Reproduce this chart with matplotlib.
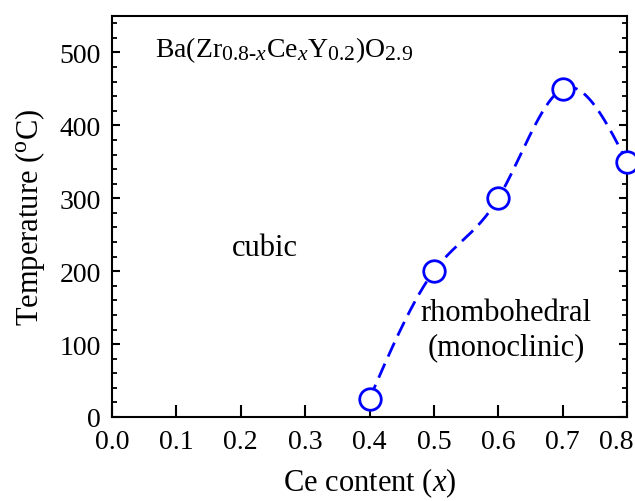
import numpy as np
import matplotlib
matplotlib.use("Agg")
import matplotlib.pyplot as plt
import matplotlib.transforms as mtransforms
from matplotlib.ticker import MultipleLocator

try:
    # slightly larger sub/superscripts, closer to the original figure
    import matplotlib._mathtext as _mt
    _mt.SHRINK_FACTOR = 0.78
except Exception:
    pass

plt.rcParams['font.family'] = ['Liberation Serif', 'DejaVu Serif']
plt.rcParams['mathtext.fontset'] = 'custom'
plt.rcParams['mathtext.rm'] = 'Liberation Serif'
plt.rcParams['mathtext.it'] = 'Liberation Serif:italic'

# data
ce_content = [0.4, 0.5, 0.6, 0.7, 0.8]
temperature = [25, 200, 300, 450, 350]
x_ticks = [0.0, 0.1, 0.2, 0.3, 0.4, 0.5, 0.6, 0.7, 0.8]
y_ticks = [0, 100, 200, 300, 400, 500]


def natural_spline(x, y, xs):
    # natural cubic spline through the points, used only to draw the guide line
    x = np.asarray(x, float)
    y = np.asarray(y, float)
    n = len(x)
    h = np.diff(x)
    A = np.zeros((n, n))
    r = np.zeros(n)
    A[0, 0] = A[-1, -1] = 1
    for i in range(1, n - 1):
        A[i, i - 1] = h[i - 1]
        A[i, i] = 2 * (h[i - 1] + h[i])
        A[i, i + 1] = h[i]
        r[i] = 6 * ((y[i + 1] - y[i]) / h[i] - (y[i] - y[i - 1]) / h[i - 1])
    m = np.linalg.solve(A, r)
    idx = np.clip(np.searchsorted(x, xs) - 1, 0, n - 2)
    t = xs - x[idx]
    hi = h[idx]
    a = (m[idx + 1] - m[idx]) / (6 * hi)
    b = m[idx] / 2
    c = (y[idx + 1] - y[idx]) / hi - hi * (2 * m[idx] + m[idx + 1]) / 6
    return y[idx] + c * t + b * t ** 2 + a * t ** 3


xs = np.linspace(ce_content[0], ce_content[-1], 300)
ys = natural_spline(ce_content, temperature, xs)

fig = plt.figure(figsize=(6.35, 5.02), dpi=100)
ax = fig.add_axes([112 / 635, 84 / 502, 515 / 635, 401 / 502])

ax.plot(xs, ys, color='#0000ff', lw=2.0, linestyle=(0, (5.5, 2.8)), zorder=2)
ax.plot(ce_content, temperature, 'o', ms=15.5, mfc='white', mec='#0000ff',
        mew=2.0, zorder=3, clip_on=False)

ax.set_xlim(0, 0.8)
ax.set_ylim(0, 550)
ax.set_xticks(x_ticks)
ax.set_xticklabels([f"{v:.1f}" for v in x_ticks])
ax.set_yticks(y_ticks)
ax.yaxis.set_minor_locator(MultipleLocator(20))

ax.tick_params(axis='x', which='major', direction='in', length=9, width=1.5,
               labelsize=20, pad=9, top=False)
ax.tick_params(axis='y', which='major', direction='in', length=6, width=1.5,
               labelsize=20, right=True, pad=8)
ax.tick_params(axis='y', which='minor', direction='in', length=3.5, width=1.3,
               right=True)
for s in ax.spines.values():
    s.set_linewidth(1.5)

# keep the last x tick label inside the picture, as in the original
last = ax.xaxis.get_major_ticks()[-1].label1
last.set_transform(last.get_transform() +
                   mtransforms.ScaledTranslation(-11 / 100, 0, fig.dpi_scale_trans))

ax.set_xlabel("Ce content ($x$)", fontsize=22, labelpad=8)
ax.set_ylabel(r"Temperature ($^\mathrm{o}$C)", fontsize=22, labelpad=9)

ax.text(0.067, 505, r"Ba(Zr$_{0.8\text{-}x}$Ce$_x$Y$_{0.2}$)O$_{2.9}$",
        fontsize=20, va='center', ha='left')
ax.text(0.238, 233, "cubic", fontsize=22, ha='center', va='center')
ax.text(0.612, 144, "rhombohedral", fontsize=22, ha='center', va='center')
ax.text(0.612, 97, "(monoclinic)", fontsize=22, ha='center', va='center')

fig.savefig("out.png", dpi=100)
